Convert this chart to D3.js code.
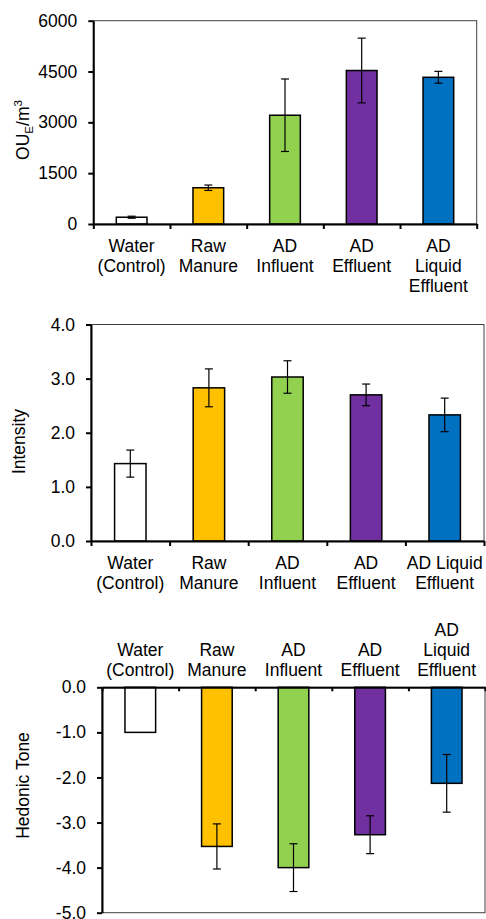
<!DOCTYPE html>
<html>
<head>
<meta charset="utf-8">
<script src="https://cdn.jsdelivr.net/npm/d3@7/dist/d3.min.js"></script>
<style>
  html, body { margin: 0; padding: 0; background: #fff; }
  svg { display: block; font-family: "Liberation Sans", Arial, sans-serif; }
</style>
</head>
<body>
<svg id="fig" width="486" height="919"></svg>
<script>
// Sample categories and bar colours
const categories = ["Water (Control)", "Raw Manure", "AD Influent", "AD Effluent", "AD Liquid Effluent"];
const barColors = ["#ffffff", "#ffc000", "#92d050", "#7030a0", "#0070c0"];

// Category label line breaks used under/over each panel
const labelsStacked = [["Water", "(Control)"], ["Raw", "Manure"], ["AD", "Influent"], ["AD", "Effluent"], ["AD", "Liquid", "Effluent"]];
const labelsCompact = [["Water", "(Control)"], ["Raw", "Manure"], ["AD", "Influent"], ["AD", "Effluent"], ["AD Liquid", "Effluent"]];

// Odour concentration (OU_E/m^3), mean and error
const odourValues = [200, 1070, 3210, 4530, 4330];
const odourErrors = [30, 80, 1070, 955, 175];
const odourTicks = [0, 1500, 3000, 4500, 6000];

// Odour intensity
const intensityValues = [1.43, 2.83, 3.03, 2.70, 2.33];
const intensityErrors = [0.25, 0.35, 0.30, 0.20, 0.31];
const intensityTicks = [0, 1, 2, 3, 4];

// Hedonic tone
const hedonicValues = [-1.0, -3.53, -4.0, -3.27, -2.13];
const hedonicErrors = [0, 0.50, 0.53, 0.42, 0.64];
const hedonicTicks = [0, -1, -2, -3, -4, -5];

const svg = d3.select("#fig");
const FONT = 17.5;
const LINE = 20;

function panel(opts) {
  const { x0, x1, yTop, yBottom, domain, ticks, fmt, values, errors, labels, labelsAbove } = opts;
  const g = svg.append("g");

  const x = d3.scaleBand().domain(categories).range([x0, x1]).paddingInner(0.6).paddingOuter(0.3);
  const xEdge = d3.scaleLinear().domain([0, categories.length]).range([x0, x1]);
  const y = d3.scaleLinear().domain(domain).range([yBottom, yTop]);
  const baseY = y(0);

  // thin frame around the plot area
  g.append("rect")
    .attr("x", x0).attr("y", Math.min(yTop, yBottom))
    .attr("width", x1 - x0).attr("height", Math.abs(yBottom - yTop))
    .attr("fill", "none").attr("stroke", "#404040").attr("stroke-width", 1);

  // bars
  g.selectAll("rect.bar").data(values).join("rect")
    .attr("class", "bar")
    .attr("x", (d, i) => x(categories[i]))
    .attr("width", x.bandwidth())
    .attr("y", d => Math.min(y(d), baseY))
    .attr("height", d => Math.abs(y(d) - baseY))
    .attr("fill", (d, i) => barColors[i])
    .attr("stroke", "#000").attr("stroke-width", 1.5);

  // error bars
  const eb = g.selectAll("g.err").data(values.map((v, i) => ({ v, e: errors[i], i })).filter(d => d.e > 0))
    .join("g").attr("class", "err")
    .attr("transform", d => `translate(${x(categories[d.i]) + x.bandwidth() / 2},0)`);
  eb.append("line").attr("x1", 0).attr("x2", 0)
    .attr("y1", d => y(d.v - d.e)).attr("y2", d => y(d.v + d.e))
    .attr("stroke", "#000").attr("stroke-width", 1.2);
  eb.selectAll("line.cap").data(d => [d.v - d.e, d.v + d.e]).join("line")
    .attr("class", "cap")
    .attr("x1", -4).attr("x2", 4)
    .attr("y1", d => y(d)).attr("y2", d => y(d))
    .attr("stroke", "#000").attr("stroke-width", 1.2);

  // value axis
  const yAxis = g.append("g").attr("transform", `translate(${x0},0)`)
    .call(d3.axisLeft(y).tickValues(ticks).tickFormat(fmt).tickSize(5).tickSizeOuter(0).tickPadding(11));
  yAxis.select(".domain").attr("stroke", "#000").attr("stroke-width", 2);
  yAxis.selectAll(".tick line").attr("stroke", "#000").attr("stroke-width", 2);
  yAxis.selectAll(".tick text").attr("fill", "#000").style("font-size", FONT + "px")
    .style("font-family", "'Liberation Sans', Arial, sans-serif");

  // category axis along the zero line, ticks between categories
  const catAxisGen = labelsAbove ? d3.axisBottom(xEdge).tickSize(4) : d3.axisBottom(xEdge).tickSize(5);
  const xAxis = g.append("g").attr("transform", `translate(0,${baseY})`)
    .call(catAxisGen.tickValues(d3.range(categories.length + 1)).tickFormat("").tickSizeOuter(0));
  xAxis.select(".domain").attr("stroke", "#000").attr("stroke-width", 2);
  xAxis.selectAll(".tick line").attr("stroke", "#000").attr("stroke-width", 2);

  // category labels
  const lab = g.selectAll("text.cat").data(labels).join("text")
    .attr("class", "cat")
    .attr("text-anchor", "middle")
    .attr("fill", "#000")
    .style("font-size", FONT + "px");
  lab.each(function (lines, i) {
    const cx = x(categories[i]) + x.bandwidth() / 2;
    const t = d3.select(this);
    lines.forEach((s, k) => {
      const by = labelsAbove
        ? opts.labelBase - (lines.length - 1 - k) * LINE
        : opts.labelBase + k * LINE;
      t.append("tspan").attr("x", cx).attr("y", by).text(s);
    });
  });
  return g;
}

const fmt1 = d => d.toFixed(1);

panel({
  x0: 93.3, x1: 476.7, yTop: 20.7, yBottom: 224,
  domain: [0, 6000], ticks: odourTicks, fmt: d3.format("d"),
  values: odourValues, errors: odourErrors,
  labels: labelsStacked, labelBase: 251.5
});

panel({
  x0: 91, x1: 484, yTop: 324.5, yBottom: 541,
  domain: [0, 4], ticks: intensityTicks, fmt: fmt1,
  values: intensityValues, errors: intensityErrors,
  labels: labelsCompact, labelBase: 568.5
});

panel({
  x0: 102, x1: 485, yTop: 687.3, yBottom: 912.7,
  domain: [-5, 0], ticks: hedonicTicks, fmt: fmt1,
  values: hedonicValues, errors: hedonicErrors,
  labels: labelsStacked, labelBase: 676, labelsAbove: true
});

// axis titles
const t1 = svg.append("text")
  .attr("transform", "translate(28.5,130) rotate(-90)")
  .attr("text-anchor", "middle").attr("fill", "#000")
  .style("font-size", FONT + "px");
t1.append("tspan").text("OU");
t1.append("tspan").attr("dy", 4).style("font-size", "11.5px").text("E");
t1.append("tspan").attr("dy", -4).text("/m");
t1.append("tspan").attr("dy", -7).style("font-size", "11.5px").text("3");

svg.append("text")
  .attr("transform", "translate(24.5,441.5) rotate(-90)")
  .attr("text-anchor", "middle").attr("fill", "#000")
  .style("font-size", FONT + "px").text("Intensity");

svg.append("text")
  .attr("transform", "translate(29,785.5) rotate(-90)")
  .attr("text-anchor", "middle").attr("fill", "#000")
  .style("font-size", FONT + "px").text("Hedonic Tone");
</script>
</body>
</html>
